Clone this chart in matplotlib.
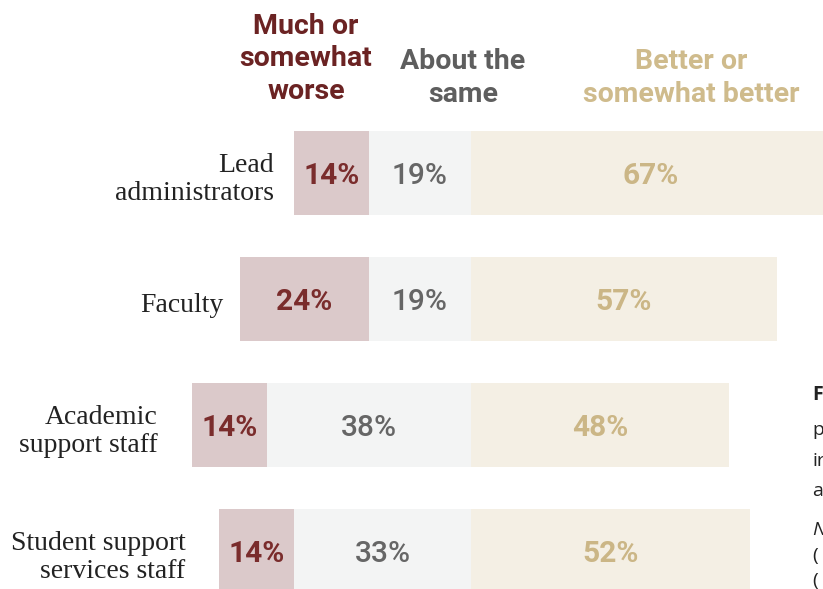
import matplotlib
matplotlib.use('Agg')
import matplotlib.pyplot as plt

groups = ['Lead\nadministrators', 'Faculty', 'Academic\nsupport staff', 'Student support\nservices staff']
worse = [14, 24, 14, 14]
same = [19, 19, 38, 33]
better = [67, 57, 48, 52]

headers = ['Much or\nsomewhat\nworse', 'About the\nsame', 'Better or\nsomewhat better']
side_bits = ['F', 'p', 'ir', 'a', 'N', '(', '(']

# colours
worse_bg, same_bg, better_bg = '#dbc9ca', '#f3f4f4', '#f4efe4'
worse_fg, same_fg, better_fg = '#7a2c2c', '#666666', '#cbb686'
head_cols = ['#6b2323', '#5e5e5e', '#cfbb8c']

sans = 'Roboto'
serif = 'Liberation Serif'

W, H = 823, 589
fig = plt.figure(figsize=(W / 100, H / 100), dpi=100)
ax = fig.add_axes([0, 0, 1, 1])

# scale: 5.37 px per percent, same/better boundary at px 471
px = 5.37
ax.set_xlim(-471 / px, (W - 471) / px)
# rows 126 px apart, first row centred at px 173
ax.set_ylim((H - 173) / 126, -173 / 126)
ax.axis('off')

bh = 84 / 126
label_gap = [20, 17, 34, 33]  # px between row label and bar
for i, g in enumerate(groups):
    w, s, b = worse[i], same[i], better[i]
    ax.barh(i, w, left=-(s + w), height=bh, color=worse_bg)
    ax.barh(i, s, left=-s, height=bh, color=same_bg)
    ax.barh(i, b, left=0, height=bh, color=better_bg)
    ax.text(-s - w / 2, i + 0.02, f'{w}%', ha='center', va='center', fontsize=21.5,
            color=worse_fg, family=sans, fontweight='bold')
    ax.text(-s / 2, i + 0.02, f'{s}%', ha='center', va='center', fontsize=21.5,
            color=same_fg, family=sans, fontweight='medium')
    ax.text(b / 2, i + 0.02, f'{b}%', ha='center', va='center', fontsize=21.5,
            color=better_fg, family=sans, fontweight='bold')
    ax.text(-(s + w) - label_gap[i] / px, i + 0.05, g, ha='right', va='center', fontsize=20,
            family=serif, color='#222222', linespacing=1.18)

# column headers
hx = [306, 463, 691]
hy = [59, 78, 78]
for t, x, y, c in zip(headers, hx, hy, head_cols):
    fig.text(x / W, 1 - y / H, t, ha='center', va='center', fontsize=20.5,
             family=sans, fontweight='bold', color=c, linespacing=1.25)

# clipped text from the neighbouring panel
sy = [395, 430, 461, 491, 530, 556, 581]
for t, y in zip(side_bits, sy):
    style = 'italic' if t == 'N' else 'normal'
    weight = 'bold' if t == 'F' else 'normal'
    fig.text(812 / W, 1 - y / H, t, ha='left', va='center', fontsize=14,
             family='Open Sans', color='#222222', fontstyle=style, fontweight=weight)

fig.savefig('out.png', dpi=100)
